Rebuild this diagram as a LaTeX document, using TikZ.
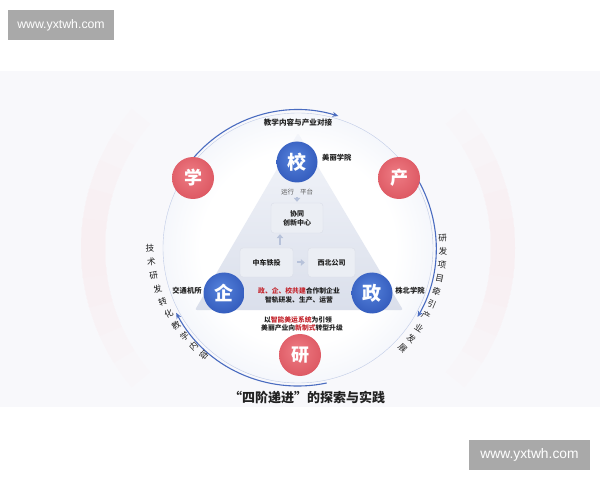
\documentclass[tikz,border=0pt]{standalone}
\usepackage{fontspec}
\setmainfont{Liberation Sans}
\newfontfamily\cjk{Noto Sans CJK SC}
\usetikzlibrary{arrows.meta,calc}
\definecolor{bandbg}{HTML}{F8F8FB}
\definecolor{wmgray}{HTML}{A9A9A9}
\definecolor{arcblue}{HTML}{4A6CC0}
\definecolor{redA}{HTML}{EE7C84}
\definecolor{redB}{HTML}{D9505B}
\definecolor{blueA}{HTML}{5683DC}
\definecolor{blueB}{HTML}{2C53B6}
\definecolor{ballA}{HTML}{FFFFFF}
\definecolor{ballB}{HTML}{E4E9F5}
\definecolor{ballC}{HTML}{C0CBE7}
\definecolor{triA}{HTML}{F3F5FA}
\definecolor{triB}{HTML}{DADFEB}
\definecolor{boxfill}{HTML}{EBEEF4}
\definecolor{boxline}{HTML}{DADEE8}
\definecolor{txt}{HTML}{222222}
\definecolor{redtxt}{HTML}{C4262E}
\definecolor{arrlight}{HTML}{B7C2DA}
\definecolor{pinkglow}{HTML}{FBE6E9}
\pgfdeclareradialshading{bigball}{\pgfpoint{0bp}{0bp}}{color(0bp)=(ballA); color(18bp)=(ballA); color(37bp)=(ballB); color(50bp)=(ballC)}
\pgfdeclareradialshading{redball}{\pgfpoint{-4bp}{6bp}}{color(0bp)=(redA); color(35bp)=(redB); color(50bp)=(redB)}
\pgfdeclareradialshading{blueball}{\pgfpoint{-4bp}{6bp}}{color(0bp)=(blueA); color(35bp)=(blueB); color(50bp)=(blueB)}
\tikzset{
  redc/.style={circle, minimum size=42pt, inner sep=0pt, shading=redball, text=white, font=\cjk\bfseries\fontsize{18}{18}\selectfont},
  bluec/.style={circle, minimum size=41pt, inner sep=0pt, shading=blueball, text=white, font=\cjk\bfseries\fontsize{19}{19}\selectfont},
  lbl/.style={font=\cjk\bfseries\fontsize{7.3}{8}\selectfont, text=txt, inner sep=1pt},
  midtxt/.style={font=\cjk\bfseries\fontsize{6.8}{8}\selectfont, text=txt, inner sep=0.5pt},
  innerbox/.style={rounded corners=3pt, fill=boxfill, draw=boxline, line width=0.4pt, font=\cjk\bfseries\fontsize{7}{9}\selectfont, text=txt, align=center, inner sep=1pt},
  flowarr/.style={draw=arrlight, line width=2pt, -{Triangle[length=4pt,width=6.5pt]}},
  cyc/.style={draw=arcblue, line width=1.1pt, -{Stealth[length=6pt,width=5pt]}},
  side/.style={font=\cjk\fontsize{8.6}{9}\selectfont, text=txt, inner sep=0pt},
  wmbox/.style={fill=wmgray, text=white, inner sep=0pt},
}
\begin{document}
\begin{tikzpicture}[x=1pt,y=1pt]
\useasboundingbox (0,0) rectangle (600,480);
\fill[white] (0,0) rectangle (600,480);
\fill[bandbg] (0,73) rectangle (600,409);
\coordinate (C) at (298,232);
% faint glow
\begin{scope}
\clip (0,73) rectangle (600,409);
\foreach \s in {8,16,24,32,40}{
  \draw[line width=24pt, color=pinkglow, opacity=0.09] ($(C)+(180-\s:205)$) arc[start angle=180-\s, end angle=180+\s, radius=205];
  \draw[line width=24pt, color=pinkglow, opacity=0.09] ($(C)+(-\s:205)$) arc[start angle=-\s, end angle=\s, radius=205];
}
\end{scope}
% watermarks
\node[wmbox, minimum width=106pt, minimum height=30pt, font=\fontsize{12.3}{13}\selectfont] (wm1) at (61,455) {www.yxtwh.com};
\node[wmbox, minimum width=121pt, minimum height=30pt, font=\fontsize{13.8}{14}\selectfont] (wm2) at (529.5,25) {www.yxtwh.com};
% big circle
\node[circle, minimum size=270pt, inner sep=0pt, shading=bigball, draw=ballC, line width=0.4pt] (ball) at (C) {};
% cycle arcs
\draw[cyc] ($(C)+(150:138)$) arc[start angle=150, end angle=73, radius=138];
\draw[cyc] ($(C)+(38:138)$) arc[start angle=38, end angle=-30, radius=138];
\draw[cyc] ($(C)+(-78:138)$) arc[start angle=-78, end angle=-152, radius=138];
% triangle
\coordinate (T1) at (298,347);
\coordinate (T2) at (403,170);
\coordinate (T3) at (195,170);
\path[top color=triA, bottom color=triB, rounded corners=2pt] (T1) -- (T2) -- (T3) -- cycle;
% inner boxes
\node[innerbox, minimum width=52pt, minimum height=30pt] (xt) at (297,262) {协同\\创新中心};
\node[innerbox, minimum width=53pt, minimum height=29pt] (zc) at (266.5,217.5) {中车铁投};
\node[innerbox, minimum width=47pt, minimum height=29pt] (xb) at (331.5,217.5) {西北公司};
\node[font=\cjk\fontsize{6.5}{7}\selectfont, text=txt!75, inner sep=1pt] (yx) at (297,288) {运行\hspace{6pt}平台};
\draw[flowarr, shorten <=1pt, shorten >=1pt] (yx.south) -- (xt.north);
\coordinate (ux) at (280,0);
\draw[flowarr, shorten <=3pt, shorten >=1pt] (zc.north -| ux) -- (xt.south -| ux);
\draw[flowarr, shorten <=4pt, shorten >=3pt] (zc.east) -- (xb.west);
% circles
\node[bluec] (xiao) at (297,318) {校};
\node[redc] (xue) at (193,302) {学};
\node[redc] (chan) at (399,302) {产};
\node[bluec] (qi) at (224,187) {企};
\node[bluec] (zheng) at (372,187) {政};
\node[redc] (yan) at (300,125) {研};
% labels
\node[lbl, font=\cjk\bfseries\fontsize{7.6}{8}\selectfont] (toplbl) at (298,357) {教学内容与产业对接};
\node[lbl, anchor=west] (mlxy) at (321,322) {美丽学院};
\node[lbl] (jtjs) at (187,189) {交通机所};
\node[lbl] (zbxy) at (410,189) {株北学院};
\node[midtxt] (l1) at (299,189) {\textcolor{redtxt}{政、企、校共建}合作制企业};
\node[midtxt] (l2) at (299,180.5) {智轨研发、生产、运营};
\node[midtxt] (l3) at (298,160.5) {以\textcolor{redtxt}{智能美运系统}为引领};
\node[midtxt] (l4) at (302,152) {美丽产业向\textcolor{redtxt}{新制式}转型升级};
% side texts
\foreach \ch [count=\i from 0] in {技,术,研,发,转,化,教,学,内,容}{
  \pgfmathsetmacro\ang{180+\i*5.4}
  \pgfmathsetmacro\rad{148-\i*0.6}
  \pgfmathsetmacro\rot{\ang-180}
  \node[side, rotate=\rot] (L\i) at ($(C)+(\ang:\rad)$) {\ch};
}
\foreach \ch [count=\i from 0] in {研,发,项,目,牵,引,产,业,发,展}{
  \pgfmathsetmacro\ang{3.8-\i*5.3}
  \node[side, rotate=\ang] (R\i) at ($(C)+(\ang:145)$) {\ch};
}
% caption
\node[font=\cjk\bfseries\fontsize{13}{14}\selectfont, text=txt] (cap) at (307,82) {“四阶递进”的探索与实践};
\end{tikzpicture}
\end{document}
